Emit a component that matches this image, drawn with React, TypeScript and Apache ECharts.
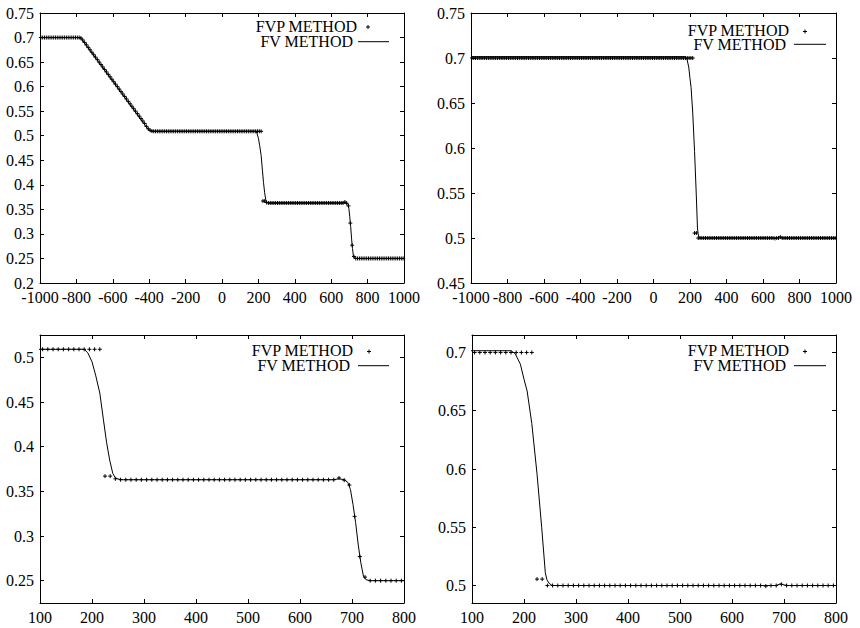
import React, { useEffect, useRef } from "react";
import * as echarts from "echarts";

// ---- sampling grid of the FVP points (cell centres) ----
const X_START = -995;
const X_STEP = 10;

// ---- problem A (left panels): FVP point values ----
const A_LEFT = [
  0.7, 0.7, 0.7, 0.7, 0.7, 0.7, 0.7, 0.7, 0.7, 0.7,
  0.7, 0.7, 0.7, 0.7, 0.7, 0.7, 0.7, 0.7, 0.7, 0.7,
  0.7, 0.7,
];
const A_FAN = [
  0.699, 0.695, 0.69, 0.685, 0.68, 0.675, 0.67, 0.665, 0.66, 0.655,
  0.65, 0.645, 0.64, 0.635, 0.63, 0.625, 0.62, 0.615, 0.61, 0.605,
  0.6, 0.595, 0.59, 0.585, 0.58, 0.575, 0.57, 0.565, 0.56, 0.555,
  0.55, 0.545, 0.54, 0.535, 0.53, 0.525, 0.519, 0.514, 0.511, 0.5095,
  0.509,
];
const A_MID = [
  0.509, 0.509, 0.509, 0.509, 0.509, 0.509, 0.509, 0.509, 0.509, 0.509,
  0.509, 0.509, 0.509, 0.509, 0.509, 0.509, 0.509, 0.509, 0.509, 0.509,
  0.509, 0.509, 0.509, 0.509, 0.509, 0.509, 0.509, 0.509, 0.509, 0.509,
  0.509, 0.509, 0.509, 0.509, 0.509, 0.509, 0.509, 0.509, 0.509, 0.509,
  0.509, 0.509, 0.509, 0.509, 0.509, 0.509, 0.509, 0.509, 0.509, 0.509,
  0.509, 0.509, 0.509, 0.509, 0.509, 0.509, 0.509, 0.509, 0.509,
];
const A_SHOCK = [0.367, 0.367, 0.364];
const A_STAR = [
  0.363, 0.363, 0.363, 0.363, 0.363, 0.363, 0.363, 0.363, 0.363, 0.363,
  0.363, 0.363, 0.363, 0.363, 0.363, 0.363, 0.363, 0.363, 0.363, 0.363,
  0.363, 0.363, 0.363, 0.363, 0.363, 0.363, 0.363, 0.363, 0.363, 0.363,
  0.363, 0.363, 0.363, 0.363, 0.363, 0.363, 0.363, 0.363, 0.363, 0.363,
  0.363, 0.363,
];
const A_STEP = [0.365, 0.3625, 0.357, 0.322, 0.277, 0.254];
const A_RIGHT = [
  0.25, 0.25, 0.25, 0.25, 0.25, 0.25, 0.25, 0.25, 0.25, 0.25,
  0.25, 0.25, 0.25, 0.25, 0.25, 0.25, 0.25, 0.25, 0.25, 0.25,
  0.25, 0.25, 0.25, 0.25, 0.25, 0.25, 0.25,
];
const FVP_A = [...A_LEFT, ...A_FAN, ...A_MID, ...A_SHOCK, ...A_STAR, ...A_STEP, ...A_RIGHT];

// ---- problem B (right panels): FVP point values ----
const B_LEFT = [
  0.7, 0.7, 0.7, 0.7, 0.7, 0.7, 0.7, 0.7, 0.7, 0.7,
  0.7, 0.7, 0.7, 0.7, 0.7, 0.7, 0.7, 0.7, 0.7, 0.7,
  0.7, 0.7, 0.7, 0.7, 0.7, 0.7, 0.7, 0.7, 0.7, 0.7,
  0.7, 0.7, 0.7, 0.7, 0.7, 0.7, 0.7, 0.7, 0.7, 0.7,
  0.7, 0.7, 0.7, 0.7, 0.7, 0.7, 0.7, 0.7, 0.7, 0.7,
  0.7, 0.7, 0.7, 0.7, 0.7, 0.7, 0.7, 0.7, 0.7, 0.7,
  0.7, 0.7, 0.7, 0.7, 0.7, 0.7, 0.7, 0.7, 0.7, 0.7,
  0.7, 0.7, 0.7, 0.7, 0.7, 0.7, 0.7, 0.7, 0.7, 0.7,
  0.7, 0.7, 0.7, 0.7, 0.7, 0.7, 0.7, 0.7, 0.7, 0.7,
  0.7, 0.7, 0.7, 0.7, 0.7, 0.7, 0.7, 0.7, 0.7, 0.7,
  0.7, 0.7, 0.7, 0.7, 0.7, 0.7, 0.7, 0.7, 0.7, 0.7,
  0.7, 0.7, 0.7, 0.7, 0.7, 0.7, 0.7, 0.7, 0.7, 0.7,
  0.7, 0.7,
];
const B_SHOCK = [0.5055, 0.5055, 0.5];
const B_RIGHT = [
  0.5, 0.5, 0.5, 0.5, 0.5, 0.5, 0.5, 0.5, 0.5, 0.5,
  0.5, 0.5, 0.5, 0.5, 0.5, 0.5, 0.5, 0.5, 0.5, 0.5,
  0.5, 0.5, 0.5, 0.5, 0.5, 0.5, 0.5, 0.5, 0.5, 0.5,
  0.5, 0.5, 0.5, 0.5, 0.5, 0.5, 0.5, 0.5, 0.5, 0.5,
  0.5, 0.4995, 0.5, 0.5, 0.501,
  0.5, 0.5, 0.5, 0.5, 0.5, 0.5, 0.5, 0.5, 0.5, 0.5,
  0.5, 0.5, 0.5, 0.5, 0.5, 0.5, 0.5, 0.5, 0.5, 0.5,
  0.5, 0.5, 0.5, 0.5, 0.5, 0.5, 0.5, 0.5, 0.5, 0.5,
];
const FVP_B = [...B_LEFT, ...B_SHOCK, ...B_RIGHT];

// ---- FV method curves (x, y) ----
const FV_A_X = [-1000, -790, -780, -770, -600, -420, -405, -390, -380, 185, 192, 200, 207, 215, 222, 228, 234, 240, 245, 252, 260, 665, 675, 685, 692, 697, 702, 707, 712, 717, 722, 727, 735, 1000];
const FV_A_Y = [0.7, 0.7, 0.699, 0.696, 0.611, 0.52, 0.513, 0.5095, 0.509, 0.509, 0.505, 0.495, 0.48, 0.46, 0.43, 0.405, 0.385, 0.37, 0.365, 0.3635, 0.363, 0.363, 0.364, 0.363, 0.36, 0.352, 0.335, 0.315, 0.29, 0.27, 0.255, 0.251, 0.25, 0.25];
const FV_B_X = [-1000, 175, 183, 193, 200, 206, 215, 225, 234, 241, 244, 248, 254, 685, 693, 700, 708, 1000];
const FV_B_Y = [0.7015, 0.7015, 0.699, 0.69, 0.677, 0.667, 0.639, 0.596, 0.55, 0.511, 0.505, 0.502, 0.5, 0.5, 0.5015, 0.5005, 0.5, 0.5];

// ---- tick values ----
const Y_TICKS_3 = [0.25, 0.3, 0.35, 0.4, 0.45, 0.5];
const Y_TICKS_4 = [0.5, 0.55, 0.6, 0.65, 0.7];

const LABEL_FVP = "FVP METHOD";
const LABEL_FV = "FV METHOD";

const SERIF = '"Liberation Serif", "Times New Roman", Times, serif';
const PLUS = "path://M0,3L6,3M3,0L3,6";

type Panel = {
  grid: { left: number; top: number; width: number; height: number };
  xMin: number; xMax: number; xInterval: number;
  yMin: number; yMax: number; yInterval?: number; yTicks?: number[];
  fvp: number[]; fvX: number[]; fvY: number[];
  lg: { tx1: number; ty1: number; tx2: number; ty2: number; px: number; py: number; lx1: number; lx2: number; ly: number };
};

const PANELS: Panel[] = [
  {
    grid: { left: 40, top: 13, width: 364, height: 270 },
    xMin: -1000, xMax: 1000, xInterval: 200,
    yMin: 0.2, yMax: 0.75, yInterval: 0.05,
    fvp: FVP_A, fvX: FV_A_X, fvY: FV_A_Y,
    lg: { tx1: 357, ty1: 26, tx2: 353, ty2: 41.5, px: 368, py: 27, lx1: 358, lx2: 389, ly: 41.7 },
  },
  {
    grid: { left: 471, top: 13, width: 365, height: 270 },
    xMin: -1000, xMax: 1000, xInterval: 200,
    yMin: 0.45, yMax: 0.75, yInterval: 0.05,
    fvp: FVP_B, fvX: FV_B_X, fvY: FV_B_Y,
    lg: { tx1: 789, ty1: 30, tx2: 786, ty2: 44.3, px: 805, py: 31.5, lx1: 794, lx2: 826, ly: 44.3 },
  },
  {
    grid: { left: 40, top: 335, width: 364, height: 268 },
    xMin: 100, xMax: 800, xInterval: 100,
    yMin: 0.225, yMax: 0.525, yTicks: Y_TICKS_3,
    fvp: FVP_A, fvX: FV_A_X, fvY: FV_A_Y,
    lg: { tx1: 353, ty1: 350, tx2: 350, ty2: 365, px: 369, py: 351.5, lx1: 358, lx2: 389, ly: 365.7 },
  },
  {
    grid: { left: 472, top: 335, width: 364, height: 268 },
    xMin: 100, xMax: 800, xInterval: 100,
    yMin: 0.485, yMax: 0.715, yTicks: Y_TICKS_4,
    fvp: FVP_B, fvX: FV_B_X, fvY: FV_B_Y,
    lg: { tx1: 789, ty1: 350, tx2: 786, ty2: 365, px: 805, py: 351.5, lx1: 794, lx2: 826, ly: 365.7 },
  },
];

const fmtY = (v: number) => String(parseFloat(Number(v).toFixed(3)));
const fmtX = (v: number) => String(Math.round(Number(v)));

function buildOption() {
  const grid: any[] = [];
  const xAxis: any[] = [];
  const yAxis: any[] = [];
  const series: any[] = [];
  const graphic: any[] = [];

  const line = { show: true, onZero: false, lineStyle: { color: "#000", width: 1 } };
  const tick = (custom?: number[]) => {
    const t: any = { show: true, inside: true, length: 4, lineStyle: { color: "#000", width: 1 } };
    if (custom) t.customValues = custom;
    return t;
  };

  PANELS.forEach((p, i) => {
    grid.push({ ...p.grid, containLabel: false });
    const xBase: any = {
      type: "value", gridIndex: i, min: p.xMin, max: p.xMax, interval: p.xInterval,
      axisLine: line, splitLine: { show: false },
    };
    xAxis.push({
      ...xBase, position: "bottom", axisTick: tick(),
      axisLabel: { show: true, color: "#000", fontFamily: SERIF, fontSize: 16, margin: 6, formatter: fmtX, showMinLabel: true, showMaxLabel: true },
    });
    xAxis.push({ ...xBase, position: "top", axisTick: tick(), axisLabel: { show: false } });

    const yBase: any = {
      type: "value", gridIndex: i, min: p.yMin, max: p.yMax,
      axisLine: line, splitLine: { show: false },
    };
    if (p.yInterval) yBase.interval = p.yInterval;
    const yLabel: any = { show: true, color: "#000", fontFamily: SERIF, fontSize: 16, margin: 6, formatter: fmtY, showMinLabel: true, showMaxLabel: true };
    if (p.yTicks) yLabel.customValues = p.yTicks;
    yAxis.push({ ...yBase, position: "left", axisTick: tick(p.yTicks), axisLabel: yLabel });
    yAxis.push({ ...yBase, position: "right", axisTick: tick(p.yTicks), axisLabel: { show: false } });

    series.push({
      type: "scatter", name: LABEL_FVP, xAxisIndex: 2 * i, yAxisIndex: 2 * i,
      data: p.fvp.map((v, k) => [X_START + X_STEP * k, v]),
      symbol: PLUS, symbolSize: 4, clip: true, silent: true,
      itemStyle: { color: "#000", borderColor: "#000", borderWidth: 1, opacity: 1 },
    });
    series.push({
      type: "line", name: LABEL_FV, xAxisIndex: 2 * i, yAxisIndex: 2 * i,
      data: p.fvX.map((x, k) => [x, p.fvY[k]]),
      showSymbol: false, symbol: "none", clip: true, silent: true,
      lineStyle: { color: "#000", width: 1 },
    });

    const lg = p.lg;
    const txtStyle = (text: string, x: number, y: number) => ({
      type: "text", silent: true,
      style: { text, x, y, fill: "#000", font: `16px ${SERIF}`, lineHeight: 13, textAlign: "right", align: "right", textVerticalAlign: "middle", verticalAlign: "middle" },
    });
    graphic.push(txtStyle(LABEL_FVP, lg.tx1, lg.ty1));
    graphic.push(txtStyle(LABEL_FV, lg.tx2, lg.ty2));
    graphic.push({ type: "line", silent: true, shape: { x1: lg.px - 2, y1: lg.py, x2: lg.px + 2, y2: lg.py }, style: { stroke: "#000", lineWidth: 1 } });
    graphic.push({ type: "line", silent: true, shape: { x1: lg.px, y1: lg.py - 2, x2: lg.px, y2: lg.py + 2 }, style: { stroke: "#000", lineWidth: 1 } });
    graphic.push({ type: "line", silent: true, shape: { x1: lg.lx1, y1: lg.ly, x2: lg.lx2, y2: lg.ly }, style: { stroke: "#000", lineWidth: 1 } });
  });

  return { animation: false, backgroundColor: "#fff", grid, xAxis, yAxis, series, graphic };
}

export default function App() {
  const ref = useRef<HTMLDivElement>(null);
  useEffect(() => {
    document.body.style.margin = "0";
    if (!ref.current) return;
    const chart = echarts.init(ref.current, undefined, { renderer: "svg" });
    chart.setOption(buildOption() as any);
    return () => chart.dispose();
  }, []);
  return <div ref={ref} style={{ position: "absolute", left: 0, top: 0, width: 860, height: 628 }} />;
}
